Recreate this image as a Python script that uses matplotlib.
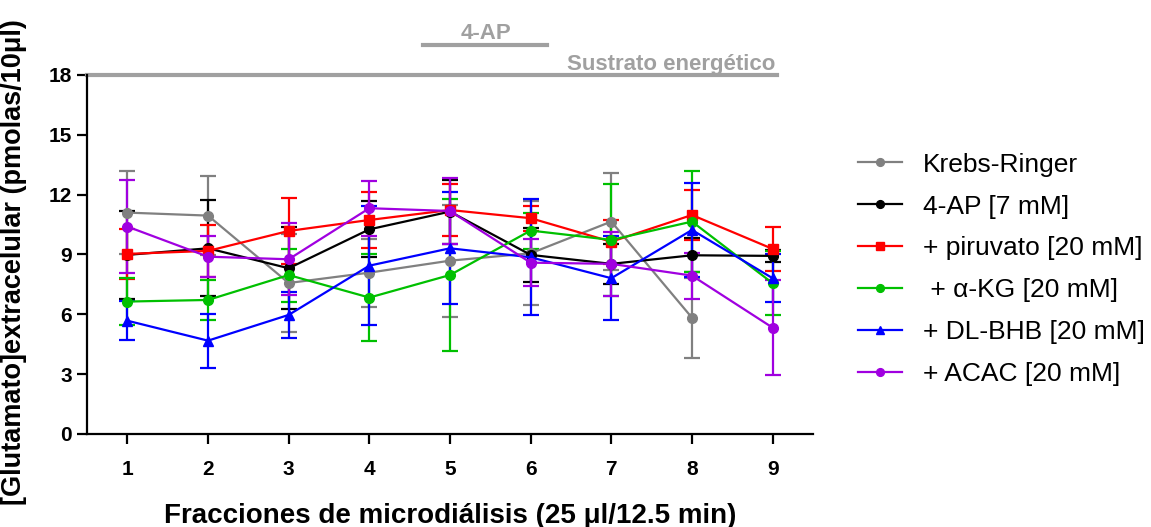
import numpy as np
import matplotlib.pyplot as plt

plt.rcParams['font.family'] = ['Liberation Sans', 'DejaVu Sans']

fracciones = [1, 2, 3, 4, 5, 6, 7, 8, 9]

# means and SEM
krebs = [11.1, 10.95, 7.57, 8.09, 8.69, 9.06, 10.65, 5.83, np.nan]
krebs_err = [2.1, 2.0, 2.45, 1.7, 2.8, 2.6, 2.45, 2.0, np.nan]

ap4 = [8.98, 9.31, 8.31, 10.26, 11.15, 8.98, 8.53, 8.96, 8.93]
ap4_err = [2.2, 2.4, 2.05, 1.4, 1.6, 1.35, 1.0, 0.85, 0.3]

piruvato = [9.03, 9.18, 10.18, 10.73, 11.23, 10.82, 9.64, 10.98, 9.28]
piruvato_err = [1.27, 1.3, 1.64, 1.38, 1.3, 0.62, 1.1, 1.26, 1.1]

akg = [6.64, 6.72, 7.97, 6.84, 7.97, 10.2, 9.73, 10.65, 7.56]
akg_err = [1.2, 1.0, 1.33, 2.2, 3.83, 0.9, 2.8, 2.55, 1.6]

bhb = [5.68, 4.68, 5.97, 8.44, 9.31, 8.86, 7.81, 10.23, 7.81]
bhb_err = [0.97, 1.35, 1.17, 3.0, 2.8, 2.9, 2.1, 2.36, 1.2]

acac = [10.4, 8.89, 8.76, 11.32, 11.18, 8.59, 8.53, 7.94, 5.33]
acac_err = [2.32, 1.04, 1.8, 1.37, 1.65, 1.18, 1.6, 1.15, 2.37]

series = [
    ('Krebs-Ringer', krebs, krebs_err, '#808080', 'o'),
    ('4-AP [7 mM]', ap4, ap4_err, 'black', 'o'),
    ('+ piruvato [20 mM]', piruvato, piruvato_err, '#ff0000', 's'),
    (' + \u03b1-KG [20 mM]', akg, akg_err, '#00c000', 'o'),
    ('+ DL-BHB [20 mM]', bhb, bhb_err, '#0000ff', '^'),
    ('+ ACAC [20 mM]', acac, acac_err, '#a000e0', 'o'),
]

fig = plt.figure(figsize=(11.51, 5.27), dpi=100)
ax = fig.add_axes([0.0756, 0.1765, 0.6307, 0.6812])

for name, y, err, col, mk in series:
    ax.errorbar(fracciones, y, yerr=err, color=col, marker=mk, markersize=7,
                linewidth=1.6, elinewidth=1.6, capsize=6, capthick=1.6,
                label=name, clip_on=False)

ax.set_xlim(0.5, 9.5)
ax.set_ylim(0, 18)
ax.set_xticks(fracciones)
ax.set_yticks(range(0, 19, 3))
for s in ['top', 'right']:
    ax.spines[s].set_visible(False)
for s in ['left', 'bottom']:
    ax.spines[s].set_linewidth(1.6)
ax.tick_params(width=1.6, length=7, labelsize=15)
ax.tick_params(axis='x', pad=12)
ax.tick_params(axis='y', pad=4)
for lab in ax.get_xticklabels() + ax.get_yticklabels():
    lab.set_fontweight('bold')

ax.set_xlabel('Fracciones de microdiálisis (25 \u03bcl/12.5 min)',
              fontsize=20, fontweight='bold', labelpad=17)
ax.set_ylabel('[Glutamato]extracelular (pmolas/10\u03bcl)',
              fontsize=19.5, fontweight='bold')
ax.yaxis.set_label_coords(-0.083, 0.48)

# treatment bars above the plot
ax.plot([0.5, 9.05], [18, 18], color='#a0a0a0', linewidth=3, clip_on=False)
ax.text(9.03, 18.55, 'Sustrato energético', color='#a0a0a0', fontsize=16,
        fontweight='bold', ha='right', va='center')
ax.plot([4.67, 6.2], [19.5, 19.5], color='#a0a0a0', linewidth=3, clip_on=False)
ax.text(5.45, 20.1, '4-AP', color='#a0a0a0', fontsize=16,
        fontweight='bold', ha='center', va='center')

handles, labels = ax.get_legend_handles_labels()
handles = [h[0] for h in handles]
leg = ax.legend(handles, labels, loc='upper left', bbox_to_anchor=(1.03, 0.85),
                frameon=False, fontsize=19, handlelength=1.65, labelspacing=0.68,
                handletextpad=0.8, markerscale=0.8)

fig.savefig('out.png', dpi=100)
